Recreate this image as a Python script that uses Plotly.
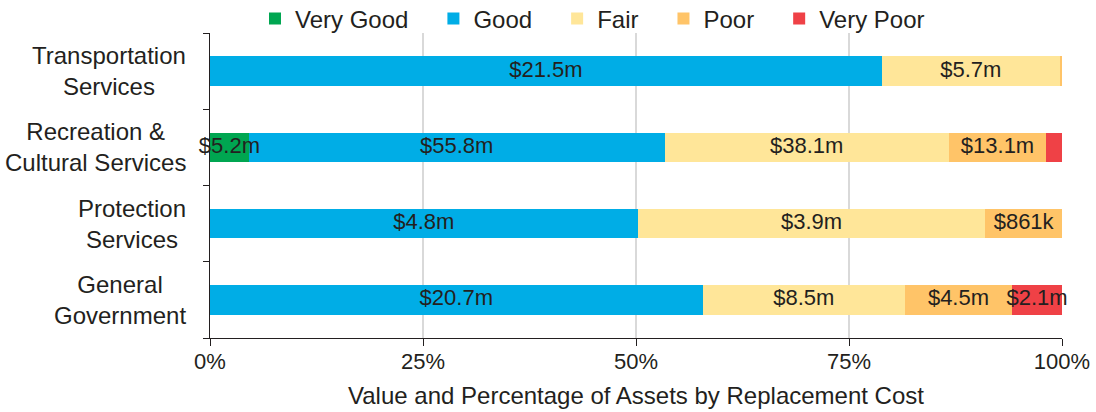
import plotly.graph_objects as go

categories = ["General<br>Government", "Protection<br>Services",
              "Recreation &<br>Cultural Services", "Transportation<br>Services"]
conditions = ["Very Good", "Good", "Fair", "Poor", "Very Poor"]
# values in $ millions, order follows categories
very_good = [0.0, 0.0, 5.2, 0.0]
good = [20.7, 4.8, 55.8, 21.5]
fair = [8.5, 3.9, 38.1, 5.7]
poor = [4.5, 0.861, 13.1, 0.07]
very_poor = [2.1, 0.0, 2.1, 0.0]
# segments whose data label is not shown in the reference: (condition, category index)
hidden_labels = [("Poor", 3), ("Very Poor", 2)]
colors = ["#00A651", "#00ADE6", "#FFE699", "#FFC468", "#EF4146"]
x_ticks = [0, 25, 50, 75, 100]
x_tick_labels = ["0%", "25%", "50%", "75%", "100%"]

series = [very_good, good, fair, poor, very_poor]
totals = [sum(s[i] for s in series) for i in range(len(categories))]


def fmt(v):
    if v <= 0:
        return ""
    if v < 1:
        return "${:.0f}k".format(v * 1000)
    return "${:.1f}m".format(v)


W, H = 1096, 412
fig = go.Figure()
ykeys = [c.replace("<br>", " ") for c in categories]
lab_x, lab_y, lab_t = [], [], []
cum = [0.0] * len(categories)
for name, vals, col in zip(conditions, series, colors):
    pct = [v / t * 100 for v, t in zip(vals, totals)]
    fig.add_trace(go.Bar(
        name=name + "\u00a0\u00a0\u00a0", orientation="h", x=pct, y=ykeys,
        marker=dict(color=col, line=dict(width=0)),
        hoverinfo="skip",
    ))
    for i, (v, p) in enumerate(zip(vals, pct)):
        if v > 0 and (name, i) not in hidden_labels:
            lab_x.append(cum[i] + p / 2)
            lab_y.append(ykeys[i])
            lab_t.append(fmt(v))
        cum[i] += p

fig.add_trace(go.Scatter(
    x=lab_x, y=lab_y, text=lab_t, mode="text", textposition="middle center",
    textfont=dict(size=22, color="#231F20"), cliponaxis=False,
    showlegend=False, hoverinfo="skip",
))

font = "Liberation Sans, Arial, sans-serif"
fig.update_layout(
    barmode="stack", bargap=0.61,
    width=W, height=H,
    margin=dict(l=210, r=34, t=33, b=74, autoexpand=False),
    paper_bgcolor="white", plot_bgcolor="white",
    font=dict(family=font, size=23, color="#231F20"),
    showlegend=True,
    legend=dict(orientation="h", x=255 / W, xanchor="left", xref="container",
                y=1 - 19 / H, yanchor="middle", yref="container",
                font=dict(size=24), itemwidth=30, traceorder="normal",
                bgcolor="rgba(0,0,0,0)"),
    xaxis=dict(range=[0, 100], tickvals=x_ticks, ticktext=x_tick_labels,
               showgrid=True, gridcolor="#D9D9D9", gridwidth=2,
               showline=True, linecolor="#231F20", linewidth=1,
               ticks="outside", ticklen=7, tickcolor="#231F20",
               ticklabelstandoff=-3,
               tickfont=dict(size=22), zeroline=False, automargin=False,
               title=dict(text="Value and Percentage of Assets by Replacement Cost",
                          font=dict(size=24), standoff=13)),
    yaxis=dict(categoryorder="array", categoryarray=ykeys,
               showticklabels=False, tickson="boundaries",
               ticks="outside", ticklen=6, tickcolor="#231F20",
               showline=True, linecolor="#231F20", linewidth=1,
               showgrid=False, zeroline=False, automargin=False),
)

for k, lab in zip(ykeys, categories):
    fig.add_annotation(x=-22 / 852, xref="paper", y=k, yref="y", text=lab,
                       showarrow=False, xanchor="right", yanchor="middle",
                       align="center", font=dict(size=24, color="#231F20"))

fig.write_html("out.html", config={"displayModeBar": False},
               post_script="document.body.style.margin='0';"
                           "document.body.style.overflow='hidden';")
